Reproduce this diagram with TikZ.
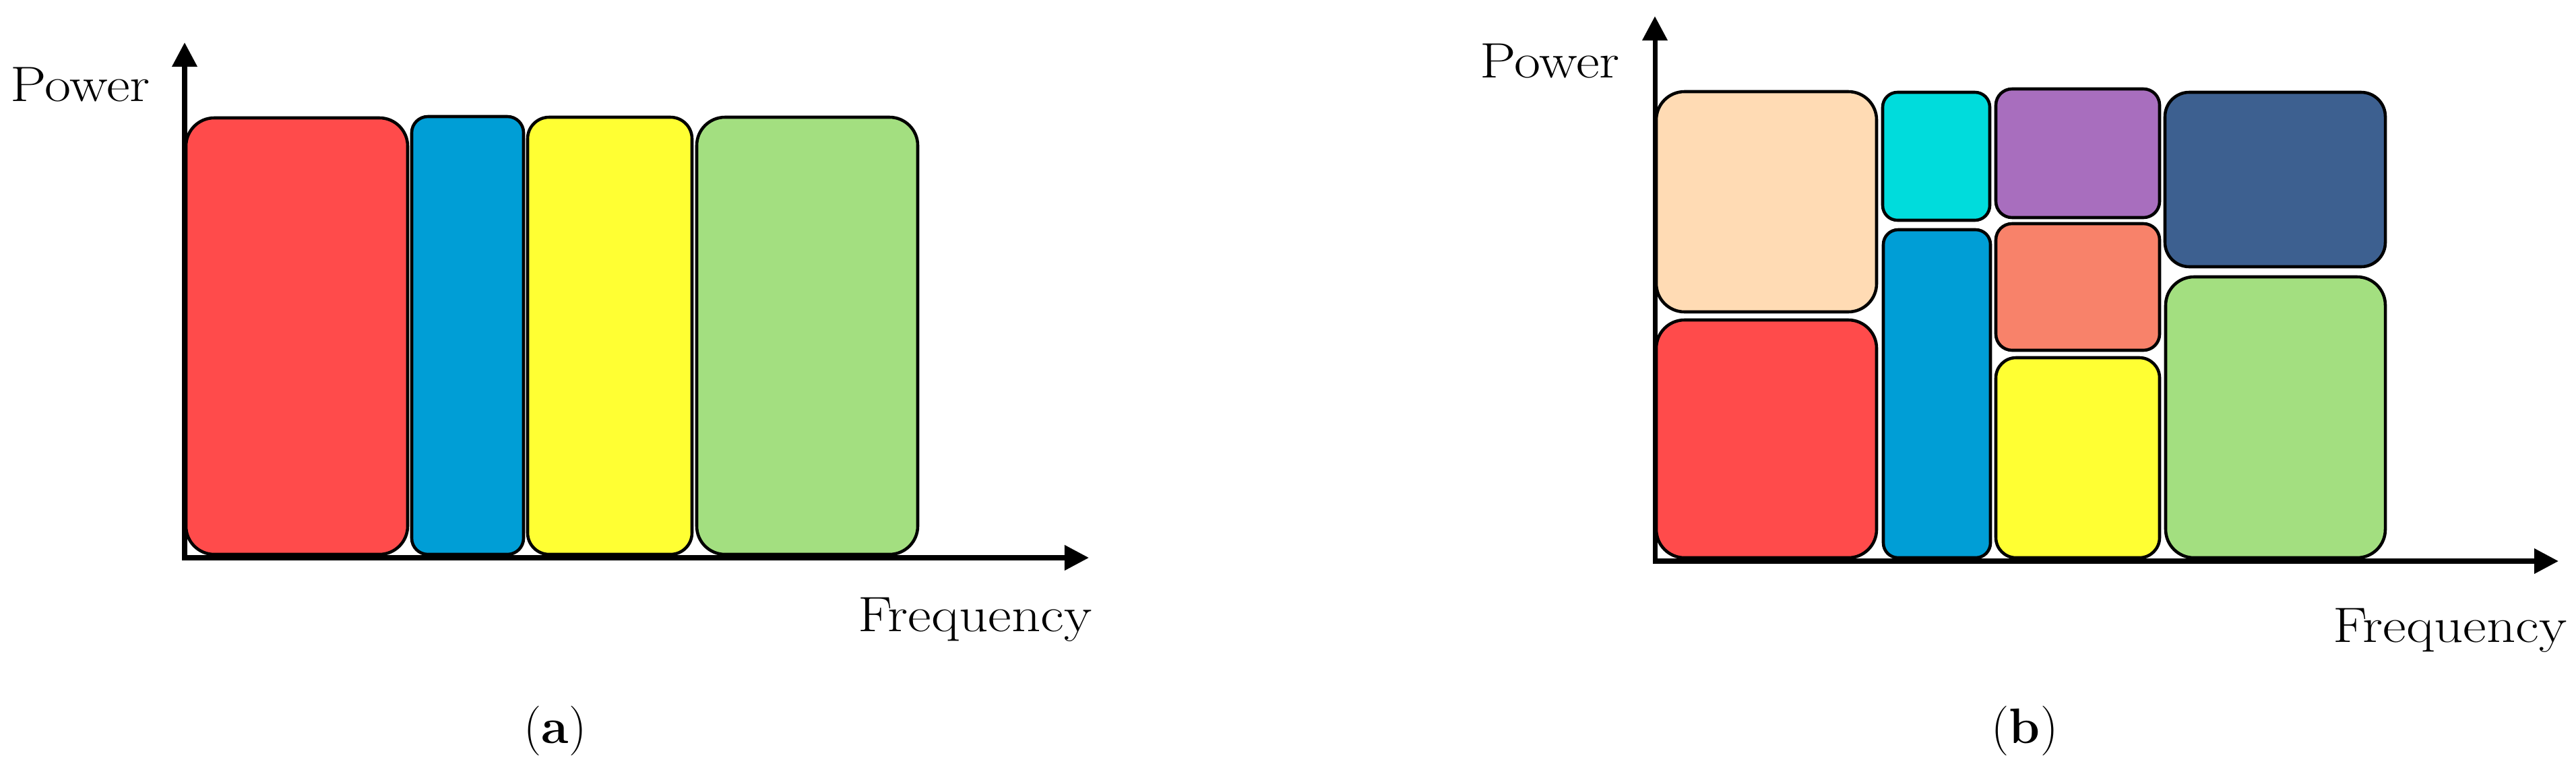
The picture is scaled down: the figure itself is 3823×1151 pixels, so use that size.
\documentclass[tikz,border=0pt]{standalone}
\usepackage{fontspec}
\newfontfamily\widefont{Latin Modern Roman}[FakeStretch=1.15]
\usetikzlibrary{arrows.meta}
\definecolor{cred}{HTML}{FF4B4B}
\definecolor{cblue}{HTML}{009ED6}
\definecolor{cyell}{HTML}{FFFF33}
\definecolor{cgreen}{HTML}{A3DF80}
\definecolor{cpeach}{HTML}{FFDBB4}
\definecolor{ccyan}{HTML}{00DCDC}
\definecolor{cpurple}{HTML}{A86EBE}
\definecolor{csalmon}{HTML}{F8826A}
\definecolor{cnavy}{HTML}{3D6090}
\begin{document}
\begin{tikzpicture}[x=0.01cm,y=-0.01cm,
  bar/.style={draw=black, line width=1.3pt},
  axisline/.style={line width=2pt, {Triangle[width=0.36cm,length=0.36cm]}-{Triangle[width=0.36cm,length=0.36cm]}},
  lbl/.style={font=\widefont\fontsize{21}{25}\selectfont, inner sep=0pt},
  sublabel/.style={font=\fontsize{21}{25}\selectfont, inner sep=0pt}]
\useasboundingbox (0,0) rectangle (3823,1151);
\fill[white] (0,0) rectangle (3823,1151);

% ---------- panel (a) ----------
\draw[bar, fill=cred,   rounded corners=0.42cm] (276,175) rectangle (605,823);
\draw[bar, fill=cblue,  rounded corners=0.24cm] (611,173) rectangle (777,823);
\draw[bar, fill=cyell,  rounded corners=0.32cm] (783,174) rectangle (1027,823);
\draw[bar, fill=cgreen, rounded corners=0.42cm] (1034,174) rectangle (1362,823);

\coordinate (oa) at (274,828);
\coordinate (ya) at (274,63);
\coordinate (xa) at (1616,828);
\draw[axisline] (ya) -- (oa) -- (xa);

\node[lbl, anchor=base] (pa) at (119,150) {Power};
\node[lbl, anchor=base east] (fa) at (1621,937) {Frequency};
\node[sublabel, anchor=base] (ca) at (824,1103) {(\textbf{a})};

% ---------- panel (b) ----------
\draw[bar, fill=cpeach,  rounded corners=0.42cm] (2458,136) rectangle (2785,463);
\draw[bar, fill=cred,    rounded corners=0.42cm] (2458,475) rectangle (2785,828);
\draw[bar, fill=ccyan,   rounded corners=0.22cm] (2794,137) rectangle (2953,327);
\draw[bar, fill=cblue,   rounded corners=0.22cm] (2795,341) rectangle (2954,828);
\draw[bar, fill=cpurple, rounded corners=0.24cm] (2962,132) rectangle (3205,323);
\draw[bar, fill=csalmon, rounded corners=0.24cm] (2962,332) rectangle (3205,520);
\draw[bar, fill=cyell,   rounded corners=0.30cm] (2962,531) rectangle (3205,828);
\draw[bar, fill=cnavy,   rounded corners=0.36cm] (3213,137) rectangle (3540,396);
\draw[bar, fill=cgreen,  rounded corners=0.42cm] (3214,411) rectangle (3540,828);

\coordinate (ob) at (2456,833);
\coordinate (yb) at (2456,24);
\coordinate (xb) at (3797,833);
\draw[axisline] (yb) -- (ob) -- (xb);

\node[lbl, anchor=base] (pb) at (2300,115) {Power};
\node[lbl, anchor=base east] (fb) at (3810,953) {Frequency};
\node[sublabel, anchor=base] (cb) at (3005,1103) {(\textbf{b})};
\end{tikzpicture}
\end{document}
